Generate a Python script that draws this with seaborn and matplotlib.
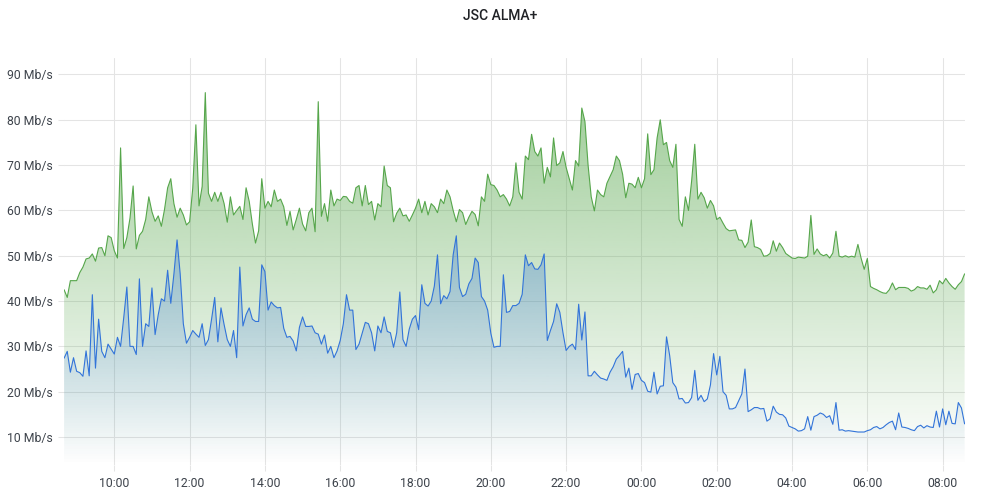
import numpy as np
import pandas as pd
import matplotlib
matplotlib.use("Agg")
import matplotlib.pyplot as plt
import matplotlib.dates as mdates
from matplotlib.patches import PathPatch
from matplotlib.colors import to_rgb
import seaborn as sns

# ---------------- data ----------------
start_time = "2024-01-01 08:40"
step = "5min"

green_in = [
    42.5, 40.8, 44.5, 44.5, 44.5, 46.3, 47.5, 49.3, 49.5, 50.4,
    48.8, 51.7, 51.8, 50, 54.4, 54, 51.1, 49.5, 73.8, 51.6,
    54, 58.3, 65.4, 51.5, 54.5, 55.4, 58, 63, 59.7, 57.6,
    58.8, 56.5, 60.2, 65, 67, 61.5, 58.5, 60.5, 59, 56.8,
    57.5, 64.9, 78.9, 61, 65.3, 86, 63.8, 62, 64, 62,
    64, 61.5, 57.4, 63, 59, 60, 60.9, 58, 65, 62,
    57, 52.8, 55.5, 67, 60.5, 62, 60.8, 64.5, 62, 62.5,
    60.8, 56.7, 59.8, 55.7, 58, 60.5, 57, 55.5, 59.5, 60.5,
    55.3, 84, 58.7, 61.5, 57.6, 64.5, 61, 62.5, 62.2, 63.1,
    63, 62, 61.6, 65, 65.5, 61, 65.5, 61.3, 62, 57.9,
    61.5, 60.8, 69.8, 65.5, 65, 57.5, 59.4, 60.5, 58.8, 59,
    57.6, 59, 60.5, 62.5, 59.5, 62, 59, 61.5, 60.8, 59.5,
    62.5, 61.5, 64.5, 63, 60, 57.5, 60.2, 59.5, 56.9, 58.5,
    59.8, 59.1, 56.6, 63, 62, 68, 65.7, 65.5, 64.5, 63,
    63.5, 62.5, 61, 63, 70.5, 64, 62.5, 72, 71.2, 76.8,
    73, 72, 73.8, 66, 69.5, 67.4, 76, 69.9, 70.5, 73,
    69.5, 67, 64.5, 71, 69.8, 82.6, 79.6, 70, 63, 59.9,
    64.5, 63.5, 63, 66, 67.5, 69, 72, 71, 68, 62.8,
    66, 65.8, 65, 67.3, 65, 67, 76.9, 67.9, 69, 76,
    80, 74.5, 75, 71, 69.5, 74.6, 58, 56.5, 63, 60,
    66.5, 74.6, 62.5, 64, 62.8, 60.5, 62.2, 61, 58, 58.5,
    57.2, 56, 55.5, 55.6, 55.7, 53.5, 53.4, 51.8, 53, 57.9,
    52, 51.8, 51.4, 49.9, 50, 50.5, 53.3, 51, 52.8, 51.8,
    50.5, 50, 49.5, 49.4, 49.7, 49.6, 49.5, 49.9, 58.9, 50.3,
    51.5, 50.4, 50, 50.3, 49.5, 50.6, 55.4, 49.9, 49.7, 50,
    49.7, 49.9, 49.7, 52.5, 49.5, 47, 49.4, 43.2, 42.8, 42.5,
    42.1, 41.8, 41.7, 42.5, 44, 42.5, 43, 43, 43, 42.8,
    42.2, 42.5, 43.2, 42.9, 42.9, 42.6, 43.5, 41.8, 42.5, 44.5,
    43.8, 45, 44, 43.2, 42.6, 43.6, 44.3, 46,
]

blue_out = [
    27.4, 28.9, 24.3, 27.5, 24.5, 24.2, 23.4, 29, 23.5, 41.4,
    25.2, 36, 28.9, 27.5, 30.5, 29.4, 28.3, 32, 30, 36.3,
    43.1, 30, 30, 28.2, 44.9, 30, 35, 34.4, 42.9, 32.6,
    37, 40.5, 40, 46.8, 39.5, 46, 53.5, 46, 35, 30.7,
    32, 33.5, 32.7, 32, 35, 30.2, 31.5, 36, 40.8, 31,
    38.5, 34.8, 31.5, 30, 33.5, 27.5, 47.5, 34.5, 37, 38.5,
    36, 35.5, 35.5, 48, 46.5, 38, 39.8, 39, 38.5, 38.6,
    34, 32, 32.2, 31.2, 29, 34.2, 36.5, 34.4, 34.4, 34.5,
    33, 32.7, 30.5, 32.5, 28.5, 30, 27.5, 29, 31.3, 35,
    41.4, 38, 38, 29.3, 30.5, 32.9, 35.3, 35, 33, 29,
    34.5, 33, 36.5, 33.3, 33, 29.8, 33, 42, 31.5, 30,
    33.8, 36, 36.8, 33.7, 43.6, 39.5, 38.9, 40, 43.3, 50.2,
    39.4, 41.2, 40.5, 42.1, 50.2, 54.4, 43, 41, 41.5, 43.8,
    45, 49.5, 48.5, 41, 40, 38, 32.9, 29.8, 30, 30,
    45.8, 37.5, 37.7, 39, 39, 39.5, 41.5, 50.2, 47.8, 48.5,
    47.1, 47, 48, 50.4, 31.3, 33.5, 35.5, 39.4, 37.5, 33,
    29.1, 30, 30.5, 29.3, 39.3, 31.4, 37.6, 23.5, 23.5, 24.5,
    23.7, 23, 22.8, 22.5, 24.3, 25.5, 27.2, 28, 28.9, 23.2,
    25.2, 20.5, 23.8, 24, 22.5, 22, 20.1, 19.9, 24.3, 19.5,
    21.2, 21.3, 32.1, 28, 22, 21, 18.4, 18.5, 17.5, 17.6,
    18.7, 24.7, 18.1, 19.2, 17.8, 18.4, 21.5, 28.4, 23.7, 27.8,
    20, 19.2, 16.2, 16.2, 16.5, 18, 19.5, 25, 15.6, 16,
    16.5, 16.5, 16.2, 16.3, 13.5, 14, 16.8, 15.5, 15, 14.9,
    14.2, 12.4, 12.1, 11.8, 11.3, 11.4, 11.8, 14.5, 11.5, 14.5,
    14.8, 15.3, 15, 14.3, 14.7, 12.8, 17.6, 11.5, 11.6, 11.3,
    11.4, 11.3, 11.2, 11.1, 11.1, 11.1, 11.4, 11.6, 12.1, 12.3,
    11.8, 12.1, 12.7, 13.2, 13.5, 11.6, 15.3, 12.2, 12.1, 11.9,
    11.6, 11.4, 12.3, 12.6, 12, 12.5, 12.2, 12.1, 15.7, 12.2,
    16.2, 12.7, 15.7, 13, 12.9, 17.6, 16.4, 12.9,
]

y_ticks = [10, 20, 30, 40, 50, 60, 70, 80, 90]
y_tick_labels = [f"{v} Mb/s" for v in y_ticks]
title = "JSC ALMA+"

green_color = "#56A64B"
blue_color = "#3274D9"

times = pd.date_range(start_time, periods=len(green_in), freq=step)
df = pd.DataFrame({"time": times, "green": green_in, "blue": blue_out})

# ---------------- style ----------------
sns.set_theme(style="white")
plt.rcParams["font.family"] = ["Roboto", "DejaVu Sans"]

fig = plt.figure(figsize=(10, 5), dpi=100)
ax = fig.add_axes([0.0641, 0.07, 0.9005, 0.815])

ymin, ymax = 3.82, 93.75
ax.set_ylim(ymin, ymax)
ax.set_xlim(times[0], times[-1])


def gradient_fill(ax, x, y, color, alpha_top, zorder):
    poly = ax.fill_between(x, 0, y, facecolor="none", edgecolor="none")
    path = poly.get_paths()[0]
    poly.remove()
    patch = PathPatch(path, transform=ax.transData, facecolor="none",
                      edgecolor="none")
    ax.add_patch(patch)
    n = 256
    rgba = np.zeros((n, 1, 4))
    rgba[:, 0, :3] = to_rgb(color)
    rgba[:, 0, 3] = np.linspace(alpha_top, 0.0, n)
    xn = mdates.date2num(x)
    im = ax.imshow(rgba, aspect="auto", origin="upper",
                   extent=[xn[0], xn[-1], ymin, ymax], zorder=zorder,
                   interpolation="bilinear")
    im.set_clip_path(patch)


gradient_fill(ax, df["time"], df["green"], green_color, 0.62, 1)
gradient_fill(ax, df["time"], df["blue"], blue_color, 0.62, 2)

sns.lineplot(data=df, x="time", y="green", ax=ax, color=green_color,
             linewidth=0.8, zorder=3)
sns.lineplot(data=df, x="time", y="blue", ax=ax, color=blue_color,
             linewidth=0.8, zorder=4)

ax.set_xlim(times[0], times[-1])
ax.set_ylim(ymin, ymax)
ax.set_aspect("auto")

ax.set_xlabel("")
ax.set_ylabel("")
ax.set_yticks(y_ticks)
ax.set_yticklabels(y_tick_labels)
ax.xaxis.set_major_locator(mdates.HourLocator(byhour=range(0, 24, 2)))
ax.xaxis.set_major_formatter(mdates.DateFormatter("%H:%M"))

grid_color = "#e4e4e4"
ax.grid(True, color=grid_color, linewidth=0.75, zorder=0)
ax.set_axisbelow(True)
for s in ax.spines.values():
    s.set_visible(False)

ax.tick_params(axis="y", length=4.3, width=0.75, color=grid_color, pad=4.0,
               labelsize=8.8, labelcolor="#3d434b", left=True)
ax.tick_params(axis="x", length=4.3, width=0.75, color=grid_color, pad=4.0,
               labelsize=8.8, labelcolor="#3d434b", bottom=True)

fig.text(0.5, 0.968, title, ha="center", va="center", fontsize=10,
         fontweight="medium", color="#202226")

fig.savefig("out.png", dpi=100, facecolor="white")
